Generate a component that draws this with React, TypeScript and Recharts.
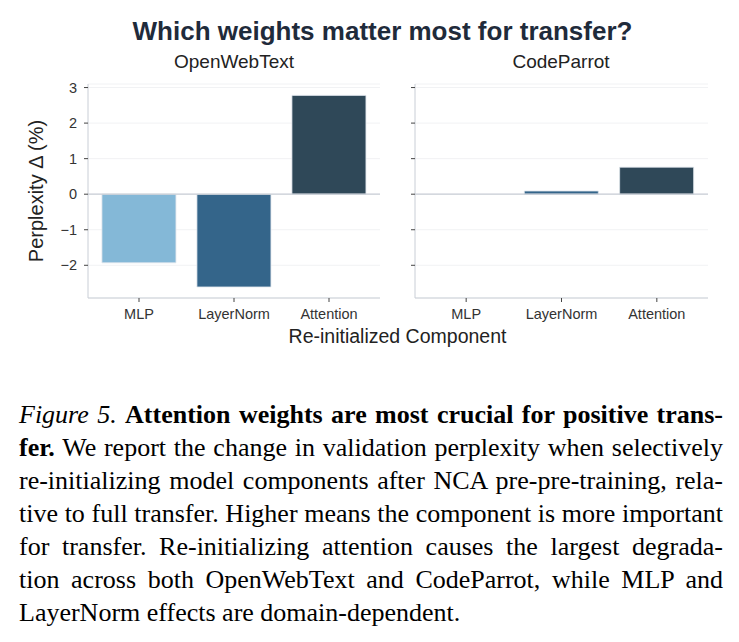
import React from "react";
import { BarChart, Bar, Cell, XAxis, YAxis, CartesianGrid, ReferenceLine } from "recharts";

const components = ["MLP", "LayerNorm", "Attention"];
const openWebTextDelta = [-1.93, -2.61, 2.78];
const codeParrotDelta = [0, 0.09, 0.76];
const barColors = ["#84b8d7", "#34658a", "#2f4858"];
const yTicks = [-2, -1, 0, 1, 2, 3];

const captionLines = [
  [<i key="a">Figure 5.</i>, " ", <b key="b">Attention weights are most crucial for positive trans-</b>],
  [<b key="a">fer.</b>, " We report the change in validation perplexity when selectively"],
  ["re-initializing model components after NCA pre-pre-training, rela-"],
  ["tive to full transfer. Higher means the component is more important"],
  ["for transfer.  Re-initializing attention causes the largest degrada-"],
  ["tion across both OpenWebText and CodeParrot, while MLP and"],
  ["LayerNorm effects are domain-dependent."],
];

const sans = "'Liberation Sans', Arial, Helvetica, sans-serif";
const axisGrey = "#c9ced6";

const toRows = (values: number[]) =>
  components.map((name, i) => ({ name, delta: values[i] }));

const fmtTick = (v: number) => (v < 0 ? `\u2212${Math.abs(v)}` : `${v}`);

interface PanelProps {
  values: number[];
  showLabels: boolean;
  left: number;
  width: number;
  marginLeft: number;
}

const Panel: React.FC<PanelProps> = ({ values, showLabels, left, width, marginLeft }) => {
  return (
    <div style={{ position: "absolute", left, top: 0 }}>
      <BarChart
        width={width}
        height={340}
        data={toRows(values)}
        margin={{ top: 84, right: 10, left: marginLeft, bottom: 12 }}
        barCategoryGap="11%"
      >
        <CartesianGrid vertical={false} stroke="#f1f2f4" />
        <XAxis
          dataKey="name"
          height={30}
          padding={{ left: 3.5, right: 3.5 }}
          stroke={axisGrey}
          tickSize={4}
          tickMargin={7}
          tickLine={{ stroke: "#444" }}
          tick={{ fill: "#333", fontSize: 14.5, fontFamily: sans }}
        />
        <YAxis
          width={40}
          domain={[-2.92, 3.1]}
          ticks={yTicks}
          allowDataOverflow
          stroke={axisGrey}
          tickSize={4}
          tickMargin={7}
          tickLine={{ stroke: "#444" }}
          tick={{ fill: "#333", fontSize: 14.5, fontFamily: sans }}
          tickFormatter={showLabels ? fmtTick : () => ""}
        />
        <ReferenceLine y={0} stroke={axisGrey} strokeWidth={1.2} />
        <Bar dataKey="delta" isAnimationActive={false} stroke="#dfe6ec" strokeWidth={0.8}>
          {values.map((_, i) => (
            <Cell key={i} fill={barColors[i]} />
          ))}
        </Bar>
      </BarChart>
    </div>
  );
};

export default function App() {
  return (
    <div
      style={{
        position: "absolute",
        left: 0,
        top: 0,
        width: 739,
        height: 642,
        background: "#fff",
        overflow: "hidden",
      }}
    >
      <Panel values={openWebTextDelta} showLabels left={0} width={390} marginLeft={48} />
      <Panel values={codeParrotDelta} showLabels={false} left={370} width={348} marginLeft={5} />

      <svg
        width={739}
        height={360}
        style={{ position: "absolute", left: 0, top: 0, pointerEvents: "none" }}
      >
        <text x={382.5} y={40} textAnchor="middle" fontFamily={sans} fontWeight="bold" fontSize={26} fill="#1f2b3b">
          Which weights matter most for transfer?
        </text>
        <text x={234} y={68} textAnchor="middle" fontFamily={sans} fontSize={19} fill="#222">
          OpenWebText
        </text>
        <text x={561} y={68} textAnchor="middle" fontFamily={sans} fontSize={19} fill="#222">
          CodeParrot
        </text>
        <text x={397.5} y={343} textAnchor="middle" fontFamily={sans} fontSize={19.5} fill="#222">
          Re-initialized Component
        </text>
        <text
          transform="translate(43,191) rotate(-90)"
          textAnchor="middle"
          fontFamily={sans}
          fontSize={20}
          fill="#222"
        >
          Perplexity Δ (%)
        </text>
      </svg>

      <div
        style={{
          position: "absolute",
          left: 19,
          top: 398,
          width: 704,
          fontFamily: "'Liberation Serif', 'Times New Roman', Times, serif",
          fontSize: 26,
          lineHeight: "33px",
          color: "#000",
        }}
      >
        {captionLines.map((parts, i) => (
          <div
            key={i}
            style={{
              textAlign: "justify",
              textAlignLast: i === captionLines.length - 1 ? "left" : "justify",
            }}
          >
            {parts}
          </div>
        ))}
      </div>
    </div>
  );
}
